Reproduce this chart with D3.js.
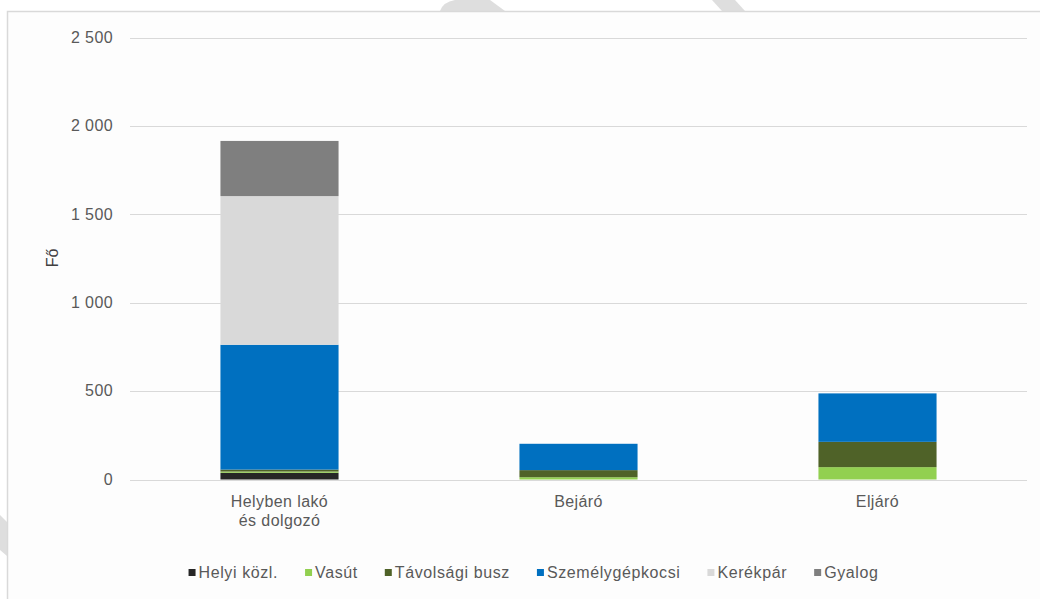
<!DOCTYPE html>
<html><head><meta charset="utf-8">
<script src="https://cdn.jsdelivr.net/npm/d3@7"></script>
<style>html,body{margin:0;padding:0;background:#fff;}svg{display:block;}</style>
</head><body>
<svg id="chart" width="1040" height="599"></svg>
<script>
const categories = ["Helyben lakó\nés dolgozó", "Bejáró", "Eljáró"];
const seriesNames = ["Helyi közl.", "Vasút", "Távolsági busz", "Személygépkocsi", "Kerékpár", "Gyalog"];
const helyiKozl = [38, 0, 0];
const vasut = [7, 13, 70];
const tavolsagiBusz = [11, 40, 143];
const szemelygepkocsi = [706, 149, 274];
const kerekpar = [841, 0, 0];
const gyalog = [312, 0, 0];
const yTicks = [0, 500, 1000, 1500, 2000, 2500];
const yTickLabels = ["0", "500", "1 000", "1 500", "2 000", "2 500"];
const colors = ["#262626", "#92d050", "#4f6228", "#0070c0", "#d9d9d9", "#7f7f7f"];

const seriesValues = [helyiKozl, vasut, tavolsagiBusz, szemelygepkocsi, kerekpar, gyalog];
const FONT = "'Liberation Sans Narrow','Arial Narrow','Liberation Sans',Arial,sans-serif";
const svg = d3.select("#chart");

// watermark fragments
const wm = svg.append("g").attr("fill", "#dedede");
wm.append("path").attr("d", "M440,11 Q443,2 455,0 L490,0 L505,11 Z");
wm.append("path").attr("d", "M712,0 L735,0 L745,11 L722,11 Z");
wm.append("path").attr("d", "M0,515 L7,522 L7,556 L0,550 Z");

// frame
svg.append("rect").attr("x", 7.5).attr("y", 11.5).attr("width", 1040).attr("height", 600)
  .attr("fill", "#fdfdfd").attr("stroke", "#d9d9d9").attr("stroke-width", 1.5);

const table = categories.map((c, i) => {
  const o = {cat: c};
  seriesNames.forEach((s, j) => o[s] = seriesValues[j][i]);
  return o;
});
const stack = d3.stack().keys(seriesNames)(table);

const x = d3.scaleBand().domain(categories).range([130, 1027]).paddingInner(0.605).paddingOuter(0.3025);
const y = d3.scaleLinear().domain([0, 2500]).range([479.5, 37.5]);

// gridlines
svg.append("g").selectAll("line").data(yTicks).join("line")
  .attr("x1", 130).attr("x2", 1027)
  .attr("y1", d => Math.round(y(d)) + 0.5).attr("y2", d => Math.round(y(d)) + 0.5)
  .attr("stroke", "#d9d9d9").attr("stroke-width", 1);

// y axis labels
const yAxis = d3.axisLeft(y).tickValues(yTicks).tickFormat((d, i) => yTickLabels[i]).tickSize(0).tickPadding(0);
const yg = svg.append("g").attr("transform", "translate(113,0)").call(yAxis);
yg.select(".domain").remove();
yg.selectAll("text").attr("font-family", FONT).attr("font-size", 16).attr("fill", "#595959")
  .attr("dy", "0.3em").attr("letter-spacing", 0.4);

// bars
svg.append("g").selectAll("g").data(stack).join("g")
  .attr("fill", (d, i) => colors[i])
  .selectAll("rect").data(d => d).join("rect")
  .attr("x", d => x(d.data.cat))
  .attr("width", x.bandwidth())
  .attr("y", d => y(d[1]))
  .attr("height", d => Math.max(0, y(d[0]) - y(d[1])));

// x axis labels
const xAxis = d3.axisBottom(x).tickSize(0).tickPadding(0).tickFormat("");
const xg = svg.append("g").attr("transform", "translate(0,479.5)").call(xAxis);
xg.select(".domain").remove();
xg.selectAll(".tick").each(function(d) {
  const lines = d.split("\n");
  const t = d3.select(this).append("text").attr("text-anchor", "middle")
    .attr("font-family", FONT).attr("font-size", 16).attr("fill", "#595959").attr("letter-spacing", 0.4);
  lines.forEach((l, i) => t.append("tspan").attr("x", 0).attr("y", 27 + i * 19).text(l));
});

// y title
svg.append("text").attr("transform", "translate(58,258) rotate(-90)")
  .attr("text-anchor", "middle").attr("font-family", FONT).attr("font-size", 16)
  .attr("fill", "#404040").text("Fő");

// legend
const lg = svg.append("g");
const items = lg.selectAll("g").data(seriesNames).join("g");
items.append("rect").attr("width", 7).attr("height", 7).attr("y", -9).attr("fill", (d, i) => colors[i]);
items.append("text").attr("x", 10).attr("font-family", FONT).attr("font-size", 16)
  .attr("fill", "#595959").attr("letter-spacing", 0.6).text(d => d);
const widths = [];
items.each(function() { widths.push(10 + d3.select(this).select("text").node().getComputedTextLength()); });
const gap = 27;
const total = d3.sum(widths) + gap * (widths.length - 1);
const startX = 533.5 - total / 2;
items.attr("transform", (d, i) => {
  const tx = startX + d3.sum(widths.slice(0, i)) + gap * i;
  return `translate(${tx},578)`;
});
</script>
</body></html>
